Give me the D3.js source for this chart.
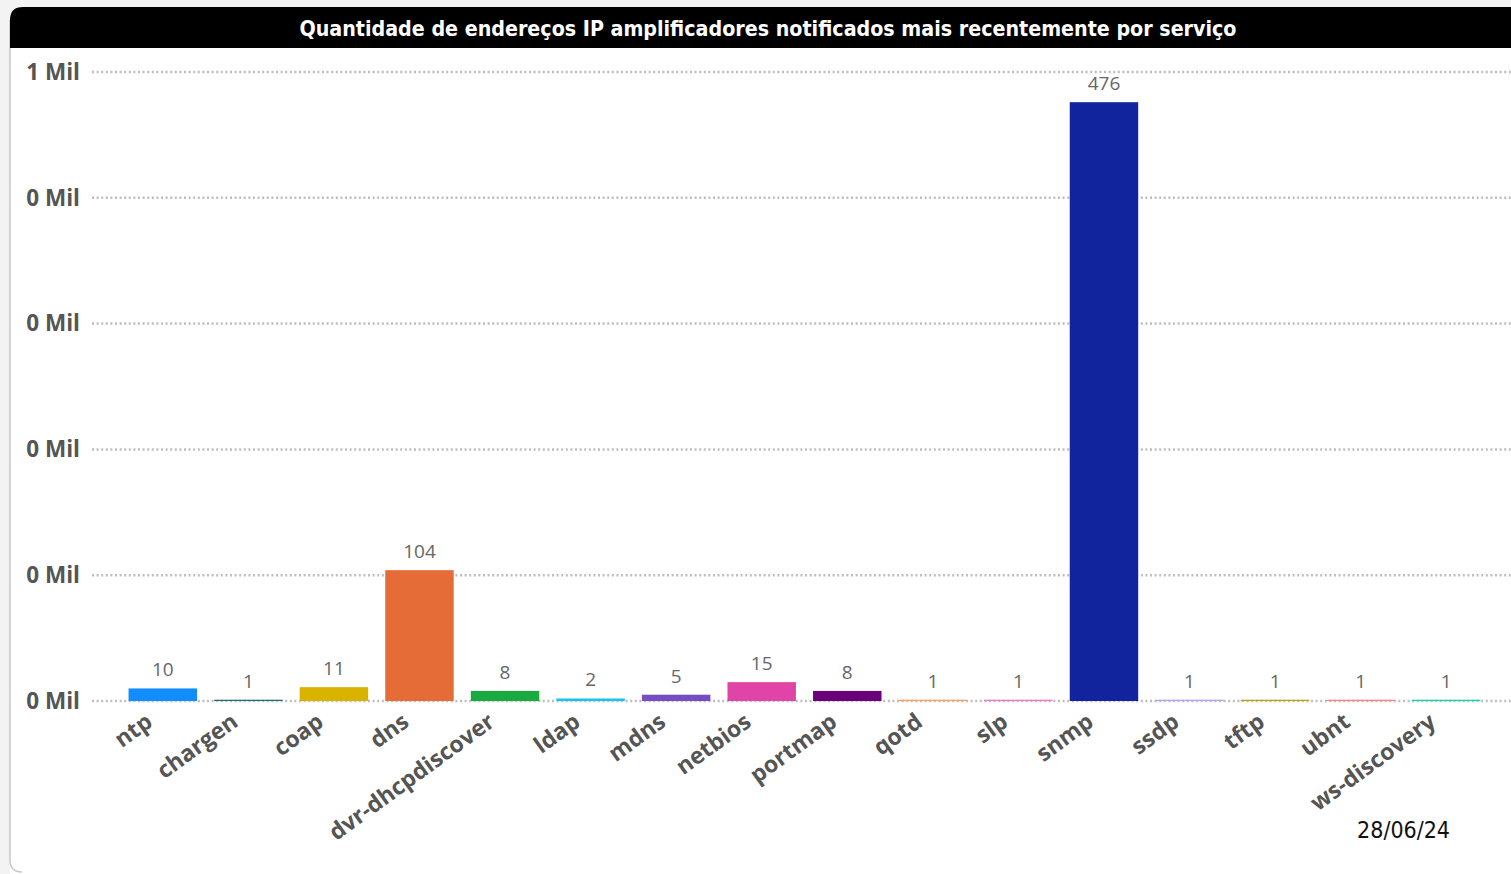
<!DOCTYPE html>
<html>
<head>
<meta charset="utf-8">
<script src="https://cdn.jsdelivr.net/npm/d3@7"></script>
<style>
  html, body { margin: 0; padding: 0; background: #f3f3f3; }
  svg { display: block; }
</style>
</head>
<body>
<svg id="chart" width="1511" height="874"></svg>
<script>
// services and counts
const services = ["ntp", "chargen", "coap", "dns", "dvr-dhcpdiscover", "ldap", "mdns", "netbios",
    "portmap", "qotd", "slp", "snmp", "ssdp", "tftp", "ubnt", "ws-discovery"];
const counts = [10, 1, 11, 104, 8, 2, 5, 15, 8, 1, 1, 476, 1, 1, 1, 1];
const yTicks = [0, 100, 200, 300, 400, 500];
const palette = ["#118DFF", "#197278", "#D9B300", "#E66C37", "#1AAB40", "#15C6F4", "#744EC2", "#E044A7",
    "#6B007B", "#FFA058", "#F472D0", "#12239E", "#B5A1FF", "#C4A200", "#FF8080", "#00DBBC"];
const title = "Quantidade de endereços IP amplificadores notificados mais recentemente por serviço";
const dateLabel = "28/06/24";

const svg = d3.select("#chart");
const W = 1511, H = 874;

// card
svg.append("path")
    .attr("d", "M10,20 Q10,7 23,7 L1511,7 L1511,874 L10,874 Z")
    .attr("fill", "#fff");
svg.append("path")
    .attr("d", "M10,20 L10,860 Q10,872 22,872")
    .attr("fill", "none")
    .attr("stroke", "#c8c8c8")
    .attr("stroke-width", 1.5);

// title bar
svg.append("path")
    .attr("d", "M10,20 Q10,7 23,7 L1511,7 L1511,48 L10,48 Z")
    .attr("fill", "#000");
svg.append("text")
    .attr("x", 768)
    .attr("y", 36)
    .attr("text-anchor", "middle")
    .attr("textLength", 937)
    .attr("lengthAdjust", "spacingAndGlyphs")
    .style("font-family", "'DejaVu Sans Condensed', 'Liberation Sans Narrow', sans-serif")
    .style("font-weight", "bold")
    .style("font-size", "22px")
    .style("fill", "#fff")
    .text(title);

const x = d3.scaleBand()
    .domain(services)
    .range([120, 1489])
    .paddingInner(0.2)
    .paddingOuter(0.1);

const y = d3.scaleLinear()
    .domain([0, 500])
    .range([701, 72]);

const color = d3.scaleOrdinal().domain(services).range(palette);

const g = svg.append("g");

// gridlines (under the bars)
g.selectAll("line.grid")
    .data(yTicks)
    .enter().append("line")
    .attr("class", "grid")
    .attr("x1", 92)
    .attr("x2", W)
    .attr("y1", function(d) { return y(d); })
    .attr("y2", function(d) { return y(d); })
    .attr("stroke", "#bdbdbd")
    .attr("stroke-width", 2.5)
    .attr("stroke-dasharray", "2,2.6");

// bars
g.selectAll("rect.bar")
    .data(services)
    .enter().append("rect")
    .attr("class", "bar")
    .attr("x", function(d) { return x(d); })
    .attr("width", x.bandwidth())
    .attr("y", function(d, i) { return y(counts[i]); })
    .attr("height", function(d, i) { return y(0) - y(counts[i]); })
    .attr("fill", function(d) { return color(d); });

// y labels
g.selectAll("text.ylab")
    .data(yTicks)
    .enter().append("text")
    .attr("class", "ylab")
    .attr("x", 80)
    .attr("y", function(d) { return y(d); })
    .attr("dy", "0.35em")
    .attr("text-anchor", "end")
    .style("font-family", "'Open Sans', sans-serif")
    .style("font-weight", "bold")
    .style("font-size", "22.5px")
    .style("fill", "#555")
    .text(function(d) { return Math.round(d / 1000) + " Mil"; });

// value labels
g.selectAll("text.val")
    .data(services)
    .enter().append("text")
    .attr("class", "val")
    .attr("x", function(d) { return x(d) + x.bandwidth() / 2; })
    .attr("y", function(d, i) { return y(counts[i]) - 12; })
    .attr("text-anchor", "middle")
    .style("font-family", "'Open Sans', sans-serif")
    .style("font-size", "19px")
    .style("fill", "#666")
    .text(function(d, i) { return counts[i]; });

// category labels
g.selectAll("text.xlab")
    .data(services)
    .enter().append("text")
    .attr("class", "xlab")
    .attr("transform", function(d) {
        return "translate(" + (x(d) + x.bandwidth() / 2 - 19) + ",711) rotate(-36)";
    })
    .attr("dy", "0.75em")
    .attr("text-anchor", "end")
    .style("font-family", "'Open Sans', sans-serif")
    .style("font-weight", "bold")
    .style("font-size", "23px")
    .style("fill", "#555")
    .text(function(d) { return d; });

// date
svg.append("text")
    .attr("x", 1450)
    .attr("y", 838)
    .attr("text-anchor", "end")
    .style("font-family", "'DejaVu Sans Condensed', sans-serif")
    .style("font-size", "23px")
    .style("fill", "#111")
    .text(dateLabel);
</script>
</body>
</html>
